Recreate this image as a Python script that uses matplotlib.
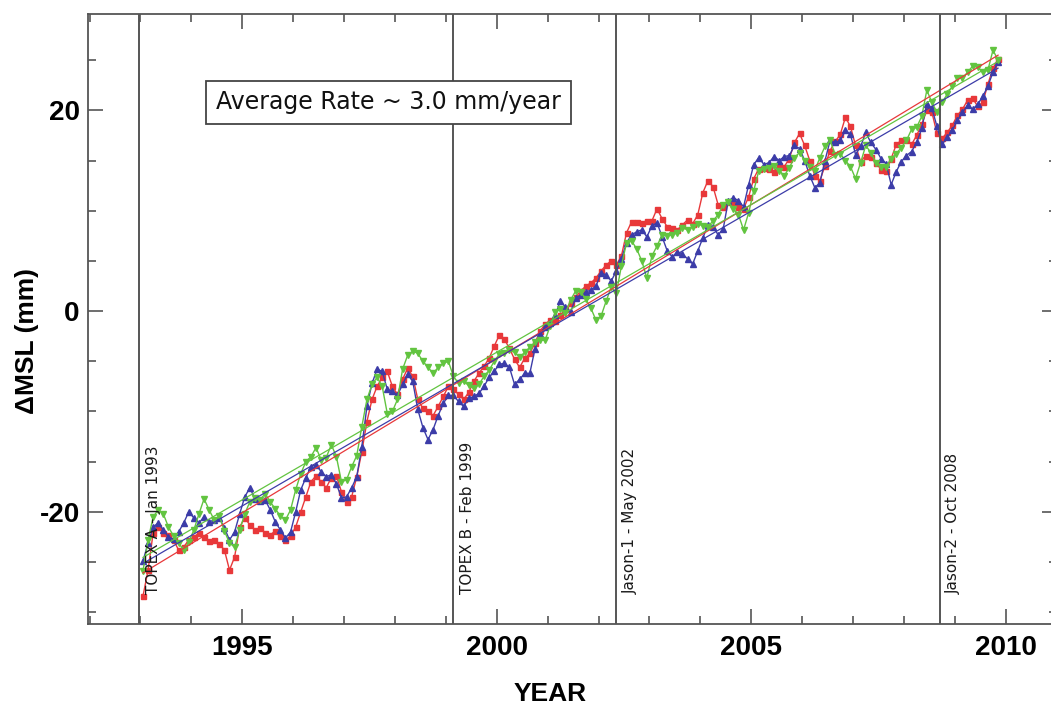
import numpy as np
import matplotlib
matplotlib.use("Agg")
import matplotlib.pyplot as plt
from matplotlib.ticker import MultipleLocator, FixedLocator

# ~0.1-year sampling of the three altimetry records (1993.05 ... 2009.85)
years = np.round(1993.05 + 0.1 * np.arange(169), 2)

red_msl = [
    -28.4, -25.8, -22.1, -21.5, -22.1, -22.3, -22.8, -23.8, -23.5, -22.8,
    -22.5, -22.1, -22.5, -22.9, -22.8, -23.2, -23.8, -25.8, -24.5, -21.5,
    -20.6, -21.3, -21.8, -21.6, -22.1, -22.3, -21.9, -22.4, -22.8, -22.4,
    -21.5, -20.0, -18.5, -17.0, -16.4, -17.0, -17.6, -16.6, -16.4, -18.0,
    -19.0, -18.5, -16.5, -14.0, -11.0, -8.8, -7.5, -6.6, -6.0, -7.5,
    -8.3, -6.8, -5.7, -6.5, -8.8, -9.7, -10.0, -10.4, -9.5, -8.5,
    -7.5, -7.8, -8.3, -8.8, -8.1, -7.0, -6.2, -5.5, -4.7, -3.5,
    -2.4, -2.8, -3.7, -4.8, -5.6, -4.7, -4.2, -3.2, -2.0, -1.3,
    -0.9, -1.0, -0.4, 0.2, 0.8, 1.4, 2.0, 2.5, 2.8, 3.3,
    4.0, 4.6, 5.0, 4.6, 5.5, 7.8, 8.9, 8.9, 8.8, 9.0,
    9.0, 10.2, 9.2, 8.4, 8.3, 8.1, 8.6, 9.1, 8.7, 9.6,
    11.8, 13.0, 12.4, 10.6, 10.4, 10.9, 10.7, 10.4, 10.2, 11.4,
    13.2, 14.2, 14.3, 14.2, 13.9, 14.6, 14.4, 15.2, 16.8, 17.7,
    16.5, 15.0, 13.5, 13.0, 14.5, 16.0, 16.9, 17.6, 19.3, 18.4,
    16.5, 14.9, 15.5, 15.4, 14.8, 14.1, 14.0, 15.2, 16.6, 17.0,
    17.0, 16.6, 17.5, 18.6, 20.0, 19.8, 17.7, 17.2, 17.8, 18.5,
    19.5, 20.1, 21.0, 21.2, 20.4, 20.8, 22.6, 24.2, 25.1,
]

blue_msl = [
    -24.9, -23.1, -21.5, -21.1, -21.8, -22.5, -22.7, -22.0, -21.1, -20.0,
    -20.6, -21.1, -20.5, -21.0, -20.8, -20.6, -21.6, -22.8, -22.0, -20.2,
    -18.5, -17.6, -18.7, -18.9, -18.8, -19.8, -21.0, -21.8, -22.6, -22.0,
    -20.0, -17.8, -16.6, -15.5, -15.3, -16.0, -16.5, -16.3, -17.2, -18.6,
    -18.5, -17.6, -16.5, -13.5, -9.5, -7.2, -5.8, -6.0, -7.8, -8.0,
    -8.4, -7.3, -6.3, -7.0, -9.8, -11.6, -12.8, -11.8, -10.4, -9.2,
    -8.4, -8.4, -9.0, -9.5, -8.7, -8.5, -8.2, -7.5, -6.6, -6.0,
    -5.3, -5.2, -5.6, -7.3, -6.8, -6.2, -6.2, -3.8, -2.3, -1.6,
    -1.2, -0.4, 1.0, 0.4, -0.1, 1.3, 1.6, 1.9, 2.1, 2.5,
    3.8, 3.6, 3.0, 4.0, 5.2, 6.8, 7.6, 7.9, 8.1, 7.4,
    8.5, 8.8, 7.4, 6.0, 5.4, 5.9, 5.7, 5.2, 4.7, 6.0,
    7.3, 8.6, 8.4, 7.6, 8.2, 11.0, 11.3, 11.0, 10.4, 12.6,
    14.6, 15.3, 14.6, 14.8, 15.4, 15.0, 15.4, 15.5, 16.5, 16.2,
    15.0, 13.5, 12.3, 12.8, 15.0, 17.0, 16.8, 17.0, 18.0, 17.6,
    15.6, 16.4, 17.8, 16.8, 16.1, 15.2, 14.7, 12.6, 13.9, 14.9,
    15.5, 15.9, 16.8, 18.2, 20.6, 20.2, 18.4, 16.6, 17.3, 18.0,
    19.0, 19.8, 20.5, 20.1, 20.6, 21.4, 22.4, 23.8, 24.8,
]

green_msl = [
    -25.9, -22.8, -20.5, -19.8, -20.2, -21.5, -22.4, -23.1, -23.8, -23.0,
    -21.8, -20.2, -18.7, -19.8, -20.8, -20.4, -21.9, -23.1, -23.5, -21.8,
    -20.2, -19.0, -18.6, -18.8, -18.2, -19.0, -19.7, -20.4, -20.8, -19.8,
    -17.8, -16.2, -15.0, -14.5, -13.6, -14.8, -14.6, -13.3, -14.5, -17.0,
    -16.8, -15.5, -14.4, -11.5, -8.8, -7.3, -6.6, -7.5, -10.2, -10.0,
    -8.8, -5.8, -4.4, -4.0, -4.2, -5.0, -5.6, -6.2, -5.6, -5.2,
    -5.0, -6.5, -7.2, -7.0, -7.4, -7.7, -7.3, -6.5, -5.9, -5.0,
    -4.3, -4.2, -3.9, -4.1, -4.6, -4.1, -3.6, -3.1, -2.9, -2.9,
    -1.5, -0.1, 0.2, -0.2, 1.1, 2.0, 1.9, 1.2, 0.3, -0.9,
    -0.5, 1.0, 2.4, 1.8, 4.5, 6.8, 7.0, 6.2, 5.0, 3.3,
    5.5, 6.5, 7.6, 7.5, 7.6, 7.8, 8.3, 8.1, 8.4, 8.7,
    8.5, 8.4, 9.0, 9.6, 10.6, 10.9, 10.2, 9.6, 8.1, 9.8,
    12.0, 14.0, 14.2, 14.3, 14.5, 14.0, 13.5, 14.3, 15.3, 15.8,
    15.0, 14.4, 14.0, 15.3, 16.4, 17.0, 15.6, 15.7, 15.0, 14.4,
    13.2, 14.8, 16.5, 15.8, 14.8, 14.4, 14.4, 15.2, 15.7, 16.3,
    17.0, 18.1, 18.3, 19.4, 22.0, 20.8, 19.8, 20.8, 21.6, 22.4,
    23.2, 23.2, 23.8, 24.4, 24.3, 23.8, 24.0, 26.0, 25.0,
]

missions = ["TOPEX A - Jan 1993", "TOPEX B - Feb 1999",
            "Jason-1 - May 2002", "Jason-2 - Oct 2008"]
mission_years = [1992.98, 1999.15, 2002.35, 2008.70]

xticks = [1995, 2000, 2005, 2010]
yticks = [-20, 0, 20]
rate_text = "Average Rate ~ 3.0 mm/year"

W, H = 1051, 708
fig = plt.figure(figsize=(W / 100, H / 100), dpi=100)
ax = fig.add_axes([88 / W, 1 - 624.3 / H, (1056.6 - 88) / W, (624.3 - 14) / H])

series = [
    (red_msl, "#e8383a", "s", 3.6),
    (blue_msl, "#3c3ca8", "^", 4.0),
    (green_msl, "#62c440", "v", 4.0),
]
for vals, col, mk, ms in series:
    ax.plot(years, vals, color=col, lw=1.0, marker=mk, ms=ms,
            mec=col, mfc=col, zorder=2)
for vals, col, mk, ms in series:
    p = np.polyfit(years, vals, 1)
    xs = np.array([years[0], years[-1]])
    ax.plot(xs, np.polyval(p, xs), color=col, lw=0.9, zorder=3)

for yr, lab in zip(mission_years, missions):
    ax.axvline(yr, color="#555555", lw=1.4, zorder=4)
    ax.text(yr + 0.13, -28.2, lab, rotation=90, ha="left", va="bottom",
            fontsize=11, family="DejaVu Sans", color="#1a1a1a", zorder=5)

ax.set_xlim(1991.97, 2011.0)
ax.set_ylim(-31.2, 29.6)
ax.xaxis.set_major_locator(FixedLocator(xticks))
ax.yaxis.set_major_locator(FixedLocator(yticks))
ax.xaxis.set_minor_locator(MultipleLocator(1))
ax.yaxis.set_minor_locator(MultipleLocator(5))
ax.set_xticklabels([str(v) for v in xticks])
ax.set_yticklabels([str(v) for v in yticks])

for lab in ax.get_xticklabels() + ax.get_yticklabels():
    lab.set_fontfamily("Liberation Sans")
    lab.set_fontweight("bold")
    lab.set_fontsize(20)

ax.tick_params(which="both", direction="in", top=True, right=True,
               color="#555555", width=1.2)
ax.tick_params(which="major", length=11)
ax.tick_params(which="minor", length=5.5)
ax.tick_params(axis="x", which="major", pad=8)
ax.tick_params(axis="y", which="major", pad=6)
for s in ax.spines.values():
    s.set_color("#555555")
    s.set_linewidth(1.3)

fig.text(388.5 / W, 1 - 102.5 / H, rate_text, ha="center", va="center",
         fontsize=17, family="DejaVu Sans", color="#111111",
         bbox=dict(boxstyle="square,pad=0.42", fc="white", ec="#444444", lw=1.3))

fig.text(27 / W, 1 - 341 / H, "\u0394MSL (mm)", rotation=90, ha="center",
         va="center", fontsize=19, fontweight="bold", family="Liberation Sans")
fig.text(550 / W, 1 - 694 / H, "YEAR", ha="center", va="center",
         fontsize=19, fontweight="bold", family="Liberation Sans")

fig.savefig("out.png", dpi=100, facecolor="white")
